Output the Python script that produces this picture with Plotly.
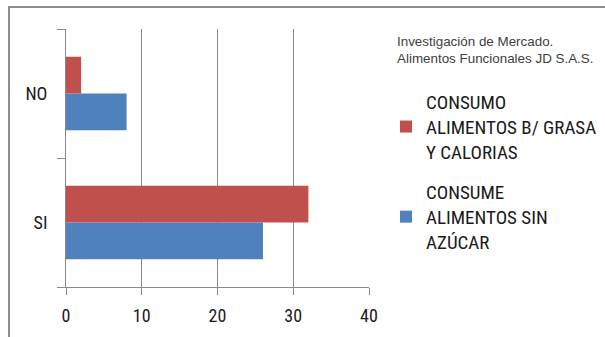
import plotly.graph_objects as go

# Survey answers (bottom-to-top order on the category axis)
categories = ["SI", "NO"]
sin_azucar = [26, 8]          # CONSUME ALIMENTOS SIN AZÚCAR
baja_grasa = [32, 2]          # CONSUMO ALIMENTOS B/ GRASA Y CALORIAS
x_ticks = [0, 10, 20, 30, 40]

name_blue = "CONSUME<br>ALIMENTOS SIN<br>AZÚCAR"
name_red = "CONSUMO<br>ALIMENTOS B/ GRASA<br>Y CALORIAS"
title_lines = "Investigación de Mercado.<br>Alimentos Funcionales JD S.A.S."

FONT = "Liberation Sans Narrow, Arial Narrow, Roboto Condensed, sans-serif"
TITLE_FONT = "Liberation Sans, Arial, sans-serif"

fig = go.Figure()
fig.add_trace(go.Bar(
    y=categories, x=sin_azucar, orientation="h", name=name_blue,
    marker=dict(color="#4F81BD", line=dict(width=0)), legendgroup="b", legendrank=2,
))
fig.add_trace(go.Bar(
    y=categories, x=baja_grasa, orientation="h", name=name_red,
    marker=dict(color="#C0504D", line=dict(width=0)), legendgroup="r", legendrank=1,
))

W, H = 605, 337
L, R, T, B = 66, 236, 29, 50
pw, ph = W - L - R, H - T - B

def px_x(px):
    return (px - L) / pw

def px_y(py):
    return (H - B - py) / ph

fig.update_layout(
    width=W, height=H,
    margin=dict(l=L, r=R, t=T, b=B, autoexpand=False),
    paper_bgcolor="white", plot_bgcolor="white",
    barmode="group", bargap=0.43, bargroupgap=0,
    font=dict(family=FONT, color="#1a1a1a"),
    xaxis=dict(
        range=[0, 40], tickvals=x_ticks, showgrid=True, gridcolor="#8a8a8a", gridwidth=1,
        showline=True, linecolor="#8a8a8a", linewidth=1,
        ticks="outside", ticklen=7, tickcolor="#8a8a8a", ticklabelstandoff=5,
        tickfont=dict(size=18, color="#1a1a1a"), zeroline=False, fixedrange=True,
    ),
    yaxis=dict(
        type="category", categoryorder="array", categoryarray=categories,
        showgrid=False, showline=True, linecolor="#8a8a8a", linewidth=1,
        ticks="outside", tickson="boundaries", ticklen=8, tickcolor="#8a8a8a",
        tickfont=dict(size=18, color="#1a1a1a"), ticklabelstandoff=14,
    ),
    legend=dict(
        x=px_x(386), y=px_y(83), xanchor="left", yanchor="top",
        traceorder="grouped", tracegroupgap=13,
        font=dict(size=19, color="#1a1a1a", family=FONT),
        bgcolor="rgba(0,0,0,0)", itemwidth=30,
    ),
    annotations=[dict(
        text=title_lines, xref="paper", yref="paper",
        x=px_x(395), y=px_y(32), xanchor="left", yanchor="top",
        align="left", showarrow=False,
        font=dict(size=13.4, color="#404040", family=TITLE_FONT),
    )],
    shapes=[dict(
        type="rect", xref="paper", yref="paper", layer="below",
        x0=px_x(9), x1=px_x(640), y0=px_y(380), y1=px_y(7),
        line=dict(color="#8c8c8c", width=2), fillcolor="rgba(0,0,0,0)",
    )],
)

fig.write_html("out.html")
